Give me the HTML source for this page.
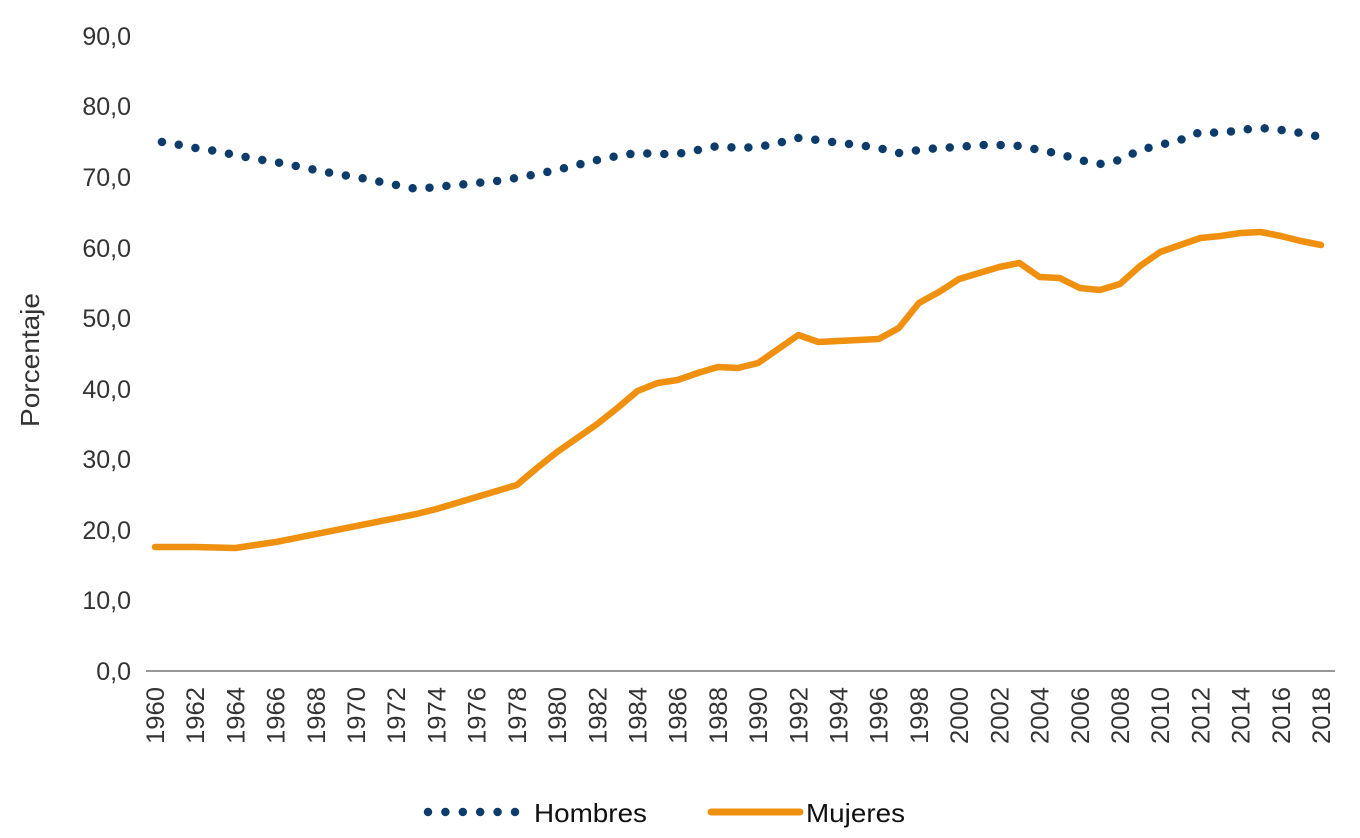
<!DOCTYPE html>
<html><head><meta charset="utf-8"><style>
body{margin:0;background:#fff}
svg{display:block;font-family:"Liberation Sans",sans-serif}
</style></head><body>
<svg width="1360" height="838" viewBox="0 0 1360 838">
<g font-size="25" fill="#333" text-anchor="end">
<text x="131" y="680">0,0</text>
<text x="131" y="609">10,0</text>
<text x="131" y="539">20,0</text>
<text x="131" y="468">30,0</text>
<text x="131" y="398">40,0</text>
<text x="131" y="327">50,0</text>
<text x="131" y="257">60,0</text>
<text x="131" y="186">70,0</text>
<text x="131" y="115">80,0</text>
<text x="131" y="45">90,0</text>
</g>
<text transform="translate(39,360) rotate(-90)" font-size="26" fill="#333" text-anchor="middle" textLength="134" lengthAdjust="spacingAndGlyphs">Porcentaje</text>
<line x1="146" y1="671" x2="1335" y2="671" stroke="#777" stroke-width="1.5"/>
<g id="xl" font-size="25" fill="#333" text-anchor="end"></g>
<polyline id="h" fill="none" stroke="#0d3c6b" stroke-width="8.5" stroke-linecap="round" stroke-dasharray="0 17" stroke-dashoffset="-7"/>
<polyline id="m" fill="none" stroke="#f0900f" stroke-width="6.5" stroke-linejoin="round" stroke-linecap="round"/>
<line x1="428" y1="812" x2="518" y2="812" stroke="#0d3c6b" stroke-width="8.5" stroke-linecap="round" stroke-dasharray="0 17.4"/>
<text x="534" y="822" font-size="26" fill="#111" textLength="113" lengthAdjust="spacingAndGlyphs">Hombres</text>
<line x1="711" y1="812" x2="800" y2="812" stroke="#f0900f" stroke-width="7" stroke-linecap="round"/>
<text x="806" y="822" font-size="26" fill="#111" textLength="99" lengthAdjust="spacingAndGlyphs">Mujeres</text>
</svg>
<script>
var H=[141,144,148,151,155,159,162,166,170,174,177,181,185,189,187,185,183,181,178,174,170,165,160,156,153,154,154,150,146,148,147,143,138,140,143,145,148,153,150,148,147,145,145,146,150,154,160,164,160,150,145,140,132,133,130,128,130,133,137];
var M=[547,547,547,547.5,548,545,542,538,534,530,526,522,518,514,509,503,497,491,485,468,452,438,424,408,391,383,380,373,367,368,363,349,335,342,341,340,339,328,303,292,279,273,267,263,277,278,288,290,284,266,252,245,238,236,233,232,236,241,245];
function X(i){return 155+i*(1321-155)/58;}
document.getElementById('h').setAttribute('points',H.map((y,i)=>X(i)+','+y).join(' '));
document.getElementById('m').setAttribute('points',M.map((y,i)=>X(i)+','+y).join(' '));
var g=document.getElementById('xl'),s='';
for(var i=0;i<=58;i+=2){var x=X(i)+9;s+='<text transform="translate('+x+',687) rotate(-90)" textLength="57" lengthAdjust="spacingAndGlyphs">'+(1960+i)+'</text>';}
g.innerHTML=s;
</script>
</body></html>
